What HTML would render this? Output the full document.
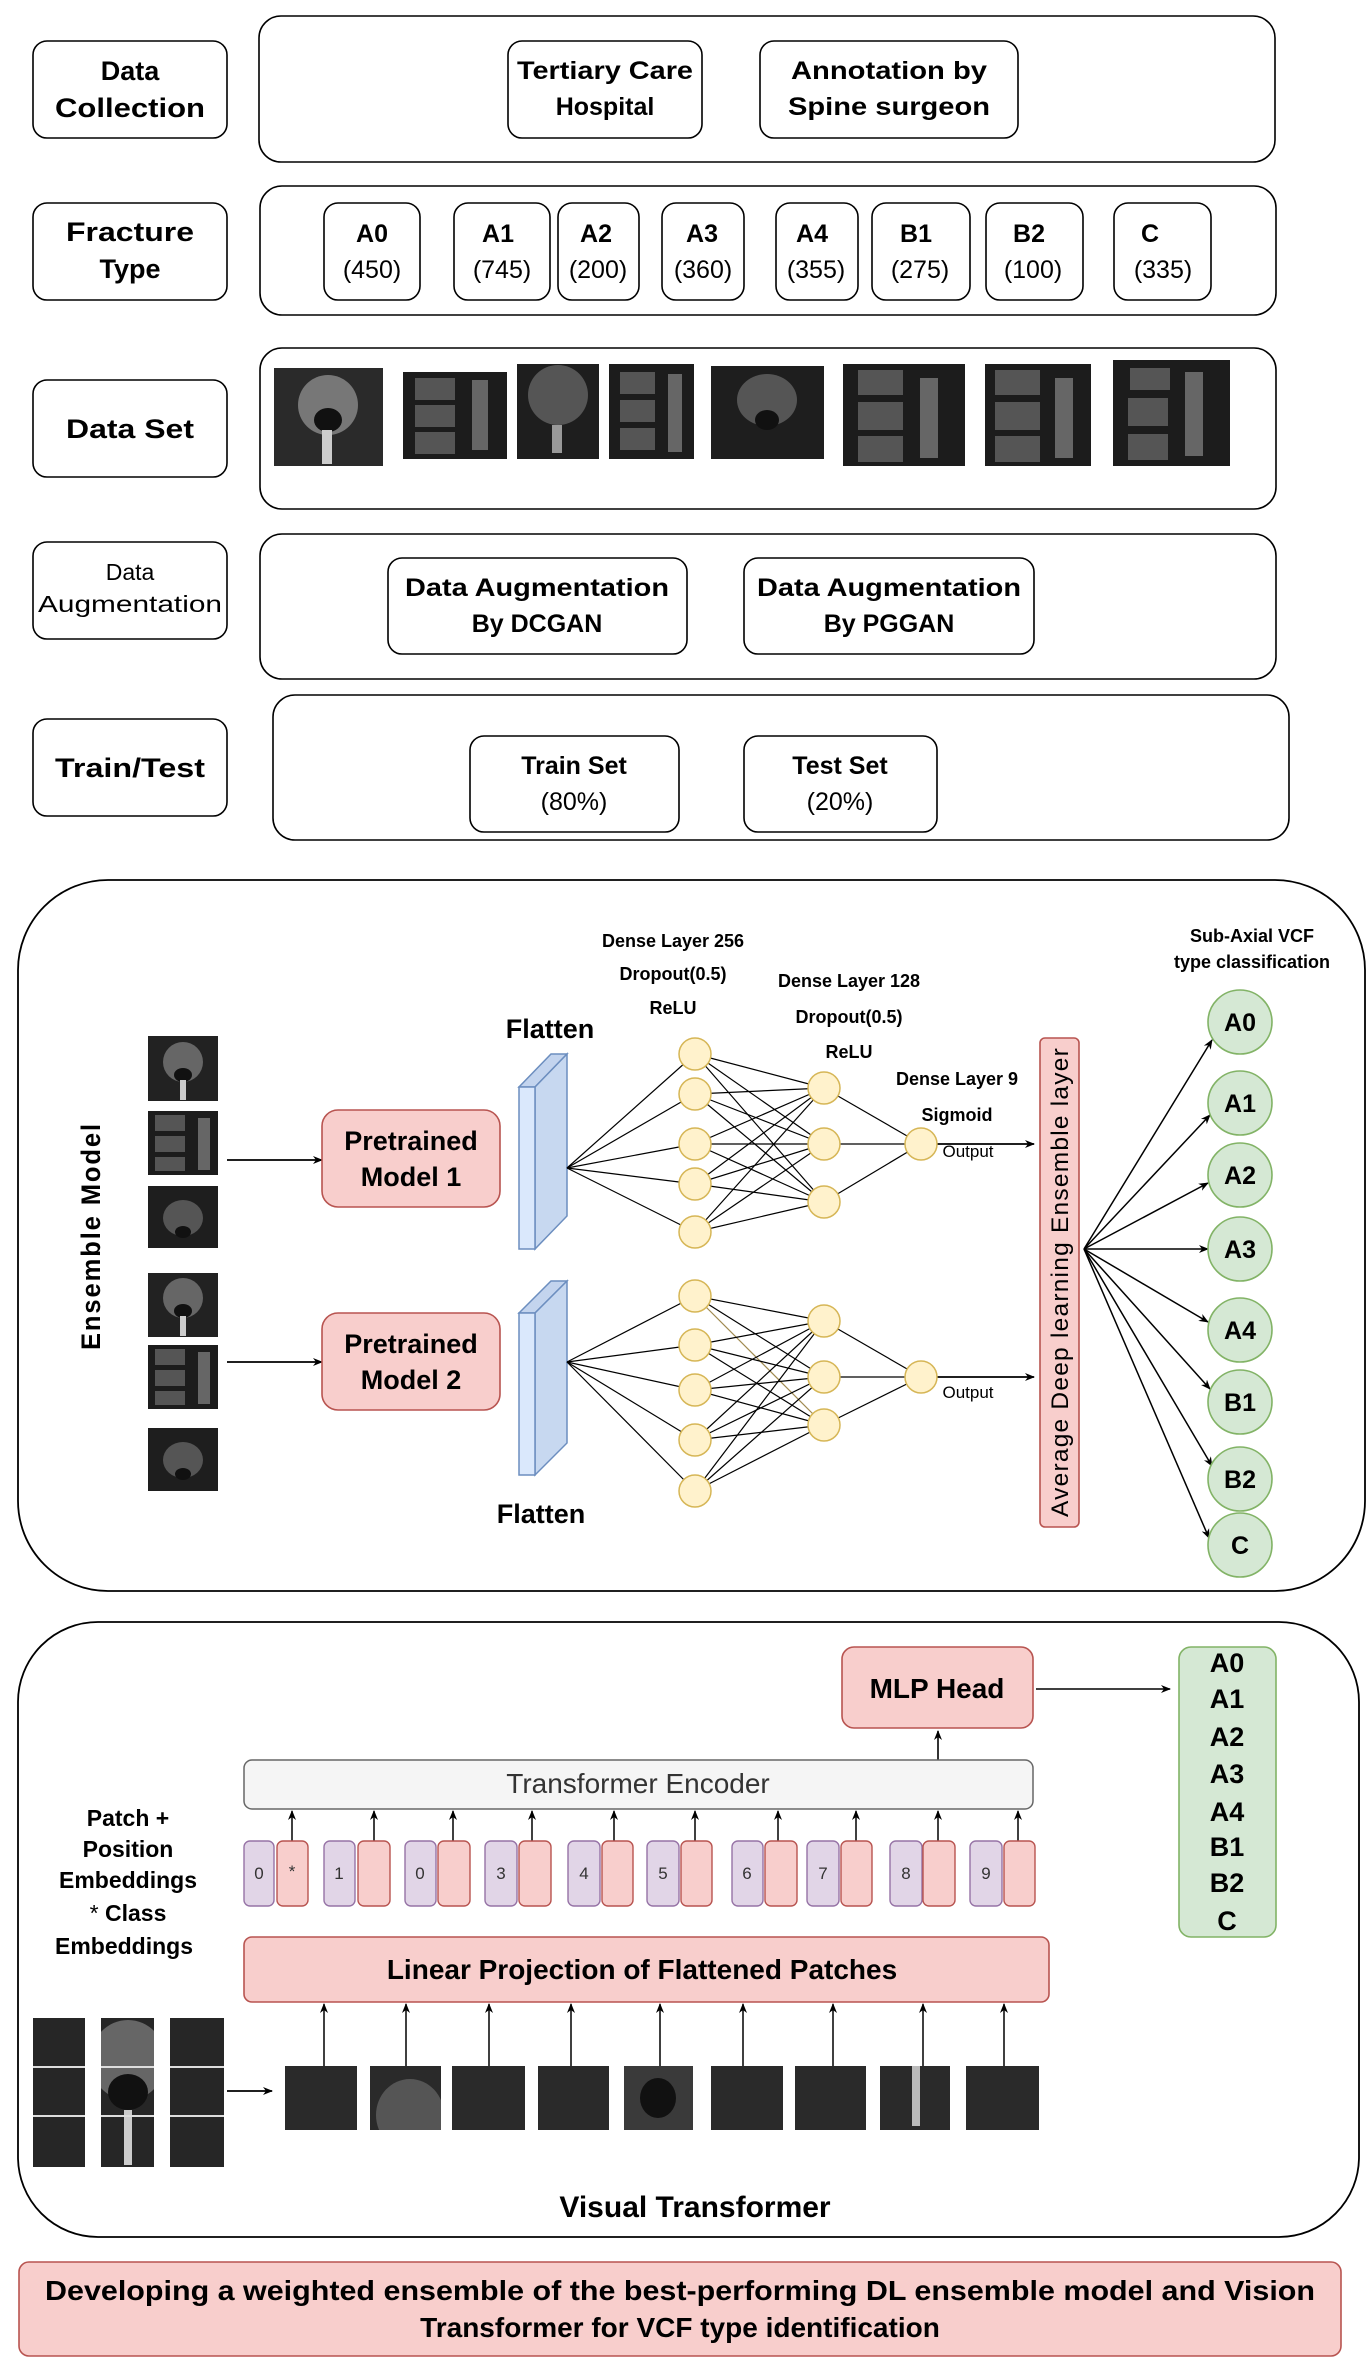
<!DOCTYPE html>
<html><head><meta charset="utf-8"><style>
html,body{margin:0;padding:0;background:#fff;}
svg{display:block;font-family:"Liberation Sans",Arial,sans-serif;}
</style></head><body>
<svg width="1372" height="2362" viewBox="0 0 1372 2362" xmlns="http://www.w3.org/2000/svg">
<defs>
<marker id="ar" markerWidth="10" markerHeight="10" refX="9" refY="5" orient="auto" markerUnits="userSpaceOnUse"><path d="M0,1 L10,5 L0,9 L3,5 Z" fill="#000"/></marker>
<clipPath id="cg"><rect x="33" y="2018" width="191" height="149"/></clipPath>
<clipPath id="cp2"><rect x="370" y="2066" width="71" height="64"/></clipPath>
</defs>
<g fill="none" stroke="#000" stroke-width="1.6">
<rect x="33" y="41" width="194" height="97" rx="14" fill="#fff"/>
<rect x="33" y="203" width="194" height="97" rx="14" fill="#fff"/>
<rect x="33" y="380" width="194" height="97" rx="14" fill="#fff"/>
<rect x="33" y="542" width="194" height="97" rx="14" fill="#fff"/>
<rect x="33" y="719" width="194" height="97" rx="14" fill="#fff"/>
<rect x="259" y="16" width="1016" height="146" rx="22"/>
<rect x="260" y="186" width="1016" height="129" rx="22"/>
<rect x="260" y="348" width="1016" height="161" rx="22"/>
<rect x="260" y="534" width="1016" height="145" rx="22"/>
<rect x="273" y="695" width="1016" height="145" rx="22"/>
<rect x="508" y="41" width="194" height="97" rx="14"/>
<rect x="760" y="41" width="258" height="97" rx="14"/>
<rect x="324" y="203" width="96" height="97" rx="14"/>
<rect x="454" y="203" width="96" height="97" rx="14"/>
<rect x="558" y="203" width="81" height="97" rx="14"/>
<rect x="662" y="203" width="82" height="97" rx="14"/>
<rect x="776" y="203" width="82" height="97" rx="14"/>
<rect x="872" y="203" width="98" height="97" rx="14"/>
<rect x="986" y="203" width="97" height="97" rx="14"/>
<rect x="1114" y="203" width="97" height="97" rx="14"/>
<rect x="388" y="558" width="299" height="96" rx="14"/>
<rect x="744" y="558" width="290" height="96" rx="14"/>
<rect x="470" y="736" width="209" height="96" rx="14"/>
<rect x="744" y="736" width="193" height="96" rx="14"/>
</g>
<g>
<rect x="274" y="368" width="109" height="98" fill="#2a2a2a"/><ellipse cx="328" cy="405" rx="30" ry="30" fill="#777"/><ellipse cx="328" cy="420" rx="14" ry="12" fill="#111"/><rect x="322" y="430" width="10" height="34" fill="#ccc"/>
<rect x="403" y="372" width="104" height="87" fill="#1c1c1c"/><rect x="415" y="378" width="40" height="22" fill="#555"/><rect x="415" y="405" width="40" height="22" fill="#555"/><rect x="415" y="432" width="40" height="22" fill="#555"/><rect x="472" y="380" width="16" height="70" fill="#666"/>
<rect x="517" y="364" width="82" height="95" fill="#1e1e1e"/><circle cx="558" cy="395" r="30" fill="#555"/><rect x="552" y="425" width="10" height="28" fill="#999"/>
<rect x="609" y="364" width="85" height="95" fill="#1c1c1c"/><rect x="620" y="372" width="35" height="22" fill="#555"/><rect x="620" y="400" width="35" height="22" fill="#555"/><rect x="620" y="428" width="35" height="22" fill="#555"/><rect x="668" y="374" width="14" height="78" fill="#666"/>
<rect x="711" y="366" width="113" height="93" fill="#1e1e1e"/><ellipse cx="767" cy="400" rx="30" ry="26" fill="#555"/><ellipse cx="767" cy="420" rx="12" ry="10" fill="#111"/>
<rect x="843" y="364" width="122" height="102" fill="#1c1c1c"/><rect x="858" y="370" width="45" height="25" fill="#555"/><rect x="858" y="402" width="45" height="28" fill="#555"/><rect x="858" y="436" width="45" height="26" fill="#555"/><rect x="920" y="378" width="18" height="80" fill="#666"/>
<rect x="985" y="364" width="106" height="102" fill="#1c1c1c"/><rect x="995" y="370" width="45" height="25" fill="#555"/><rect x="995" y="402" width="45" height="28" fill="#555"/><rect x="995" y="436" width="45" height="26" fill="#555"/><rect x="1055" y="378" width="18" height="80" fill="#666"/>
<rect x="1113" y="360" width="117" height="106" fill="#1c1c1c"/><rect x="1130" y="368" width="40" height="22" fill="#555"/><rect x="1128" y="398" width="40" height="28" fill="#555"/><rect x="1128" y="434" width="40" height="26" fill="#555"/><rect x="1185" y="372" width="18" height="84" fill="#666"/>
</g>
<g font-weight="bold" font-size="27" fill="#000" text-anchor="middle">
<text x="130" y="80">Data</text><text x="130" y="117" textLength="150" lengthAdjust="spacingAndGlyphs">Collection</text>
<text x="130" y="241" textLength="128" lengthAdjust="spacingAndGlyphs">Fracture</text><text x="130" y="278">Type</text>
<text x="130" y="438" textLength="128" lengthAdjust="spacingAndGlyphs">Data Set</text>
<text x="130" y="580" font-size="23" font-weight="normal">Data</text><text x="130" y="612" font-size="23" font-weight="normal" textLength="184" lengthAdjust="spacingAndGlyphs">Augmentation</text>
<text x="130" y="777" textLength="150" lengthAdjust="spacingAndGlyphs">Train/Test</text>
</g>
<g font-weight="bold" font-size="25" fill="#000" text-anchor="middle">
<text x="605" y="79" textLength="176" lengthAdjust="spacingAndGlyphs">Tertiary Care</text><text x="605" y="115">Hospital</text>
<text x="889" y="79" textLength="196" lengthAdjust="spacingAndGlyphs">Annotation by</text><text x="889" y="115" textLength="202" lengthAdjust="spacingAndGlyphs">Spine surgeon</text>
<text x="372" y="242">A0</text><text x="372" y="278" font-weight="normal">(450)</text>
<text x="498" y="242">A1</text><text x="502" y="278" font-weight="normal">(745)</text>
<text x="596" y="242">A2</text><text x="598" y="278" font-weight="normal">(200)</text>
<text x="702" y="242">A3</text><text x="703" y="278" font-weight="normal">(360)</text>
<text x="812" y="242">A4</text><text x="816" y="278" font-weight="normal">(355)</text>
<text x="916" y="242">B1</text><text x="920" y="278" font-weight="normal">(275)</text>
<text x="1029" y="242">B2</text><text x="1033" y="278" font-weight="normal">(100)</text>
<text x="1150" y="242">C</text><text x="1163" y="278" font-weight="normal">(335)</text>
<text x="537" y="596" textLength="264" lengthAdjust="spacingAndGlyphs">Data Augmentation</text><text x="537" y="632">By DCGAN</text>
<text x="889" y="596" textLength="264" lengthAdjust="spacingAndGlyphs">Data Augmentation</text><text x="889" y="632">By PGGAN</text>
<text x="574" y="774">Train Set</text><text x="574" y="810" font-weight="normal">(80%)</text>
<text x="840" y="774">Test Set</text><text x="840" y="810" font-weight="normal">(20%)</text>
</g>

<rect x="18" y="880" width="1347" height="711" rx="90" fill="none" stroke="#000" stroke-width="1.8"/>
<text transform="translate(100,1236) rotate(-90)" text-anchor="middle" font-weight="bold" font-size="27" letter-spacing="2" textLength="228" lengthAdjust="spacingAndGlyphs">Ensemble Model</text>
<g>
<rect x="148" y="1036" width="70" height="65" fill="#222"/><ellipse cx="183" cy="1062" rx="20" ry="20" fill="#666"/><ellipse cx="183" cy="1075" rx="9" ry="7" fill="#111"/><rect x="180" y="1080" width="6" height="20" fill="#ccc"/>
<rect x="148" y="1111" width="70" height="64" fill="#1c1c1c"/><rect x="155" y="1115" width="30" height="16" fill="#555"/><rect x="155" y="1136" width="30" height="16" fill="#555"/><rect x="155" y="1157" width="30" height="14" fill="#555"/><rect x="198" y="1118" width="12" height="52" fill="#666"/>
<rect x="148" y="1186" width="70" height="62" fill="#1e1e1e"/><ellipse cx="183" cy="1218" rx="20" ry="18" fill="#555"/><ellipse cx="183" cy="1232" rx="8" ry="6" fill="#111"/>
<rect x="148" y="1273" width="70" height="64" fill="#222"/><ellipse cx="183" cy="1298" rx="20" ry="20" fill="#666"/><ellipse cx="183" cy="1311" rx="9" ry="7" fill="#111"/><rect x="180" y="1316" width="6" height="20" fill="#ccc"/>
<rect x="148" y="1345" width="70" height="64" fill="#1c1c1c"/><rect x="155" y="1349" width="30" height="16" fill="#555"/><rect x="155" y="1370" width="30" height="16" fill="#555"/><rect x="155" y="1391" width="30" height="14" fill="#555"/><rect x="198" y="1352" width="12" height="52" fill="#666"/>
<rect x="148" y="1428" width="70" height="63" fill="#1e1e1e"/><ellipse cx="183" cy="1460" rx="20" ry="18" fill="#555"/><ellipse cx="183" cy="1474" rx="8" ry="6" fill="#111"/>
</g>
<g stroke="#000" stroke-width="1.8" fill="none">
<line x1="227" y1="1160" x2="322" y2="1160" marker-end="url(#ar)"/>
<line x1="227" y1="1362" x2="322" y2="1362" marker-end="url(#ar)"/>
</g>
<rect x="322" y="1110" width="178" height="97" rx="16" fill="#f8cecc" stroke="#b85450" stroke-width="1.6"/>
<rect x="322" y="1313" width="178" height="97" rx="16" fill="#f8cecc" stroke="#b85450" stroke-width="1.6"/>
<g font-weight="bold" font-size="27" text-anchor="middle">
<text x="411" y="1150">Pretrained</text><text x="411" y="1186">Model 1</text>
<text x="411" y="1353">Pretrained</text><text x="411" y="1389">Model 2</text>
<text x="550" y="1038">Flatten</text><text x="541" y="1523">Flatten</text>
</g>
<g stroke="#6c8ebf" stroke-width="1.5">
<polygon points="519,1087 535,1087 567,1054 551,1054" fill="#c3d4ee"/>
<polygon points="535,1087 567,1054 567,1216 535,1249" fill="#c7d8f0"/>
<rect x="519" y="1087" width="16" height="162" fill="#dae8fc"/>
<polygon points="519,1313 535,1313 567,1281 551,1281" fill="#c3d4ee"/>
<polygon points="535,1313 567,1281 567,1443 535,1475" fill="#c7d8f0"/>
<rect x="519" y="1313" width="16" height="162" fill="#dae8fc"/>
</g>
<g stroke="#000" stroke-width="1.2">
<line x1="567" y1="1168" x2="695" y2="1054"/><line x1="567" y1="1168" x2="695" y2="1094"/><line x1="567" y1="1168" x2="695" y2="1144"/><line x1="567" y1="1168" x2="695" y2="1184"/><line x1="567" y1="1168" x2="695" y2="1232"/>
<line x1="695" y1="1054" x2="824" y2="1088"/><line x1="695" y1="1054" x2="824" y2="1144"/><line x1="695" y1="1054" x2="824" y2="1202"/>
<line x1="695" y1="1094" x2="824" y2="1088"/><line x1="695" y1="1094" x2="824" y2="1144"/><line x1="695" y1="1094" x2="824" y2="1202"/>
<line x1="695" y1="1144" x2="824" y2="1088"/><line x1="695" y1="1144" x2="824" y2="1144"/><line x1="695" y1="1144" x2="824" y2="1202"/>
<line x1="695" y1="1184" x2="824" y2="1088"/><line x1="695" y1="1184" x2="824" y2="1144"/><line x1="695" y1="1184" x2="824" y2="1202"/>
<line x1="695" y1="1232" x2="824" y2="1088"/><line x1="695" y1="1232" x2="824" y2="1144"/><line x1="695" y1="1232" x2="824" y2="1202"/>
<line x1="824" y1="1088" x2="921" y2="1144"/><line x1="824" y1="1144" x2="921" y2="1144"/><line x1="824" y1="1202" x2="921" y2="1144"/>
<line x1="567" y1="1362" x2="695" y2="1296"/><line x1="567" y1="1362" x2="695" y2="1345"/><line x1="567" y1="1362" x2="695" y2="1390"/><line x1="567" y1="1362" x2="695" y2="1440"/><line x1="567" y1="1362" x2="695" y2="1491"/>
<line x1="695" y1="1296" x2="824" y2="1321"/><line x1="695" y1="1296" x2="824" y2="1377"/><line x1="695" y1="1296" x2="824" y2="1425" stroke="#a08a50"/>
<line x1="695" y1="1345" x2="824" y2="1321"/><line x1="695" y1="1345" x2="824" y2="1377"/><line x1="695" y1="1345" x2="824" y2="1425"/>
<line x1="695" y1="1390" x2="824" y2="1321"/><line x1="695" y1="1390" x2="824" y2="1377"/><line x1="695" y1="1390" x2="824" y2="1425"/>
<line x1="695" y1="1440" x2="824" y2="1321"/><line x1="695" y1="1440" x2="824" y2="1377"/><line x1="695" y1="1440" x2="824" y2="1425"/>
<line x1="695" y1="1491" x2="824" y2="1321"/><line x1="695" y1="1491" x2="824" y2="1377"/><line x1="695" y1="1491" x2="824" y2="1425"/>
<line x1="824" y1="1321" x2="921" y2="1377"/><line x1="824" y1="1377" x2="921" y2="1377"/><line x1="824" y1="1425" x2="921" y2="1377"/>
</g>
<g stroke="#000" stroke-width="1.8">
<line x1="937" y1="1144" x2="1034" y2="1144" marker-end="url(#ar)"/>
<line x1="937" y1="1377" x2="1034" y2="1377" marker-end="url(#ar)"/>
</g>
<g fill="#fff2cc" stroke="#d6b656" stroke-width="1.5">
<circle cx="695" cy="1054" r="16"/><circle cx="695" cy="1094" r="16"/><circle cx="695" cy="1144" r="16"/><circle cx="695" cy="1184" r="16"/><circle cx="695" cy="1232" r="16"/>
<circle cx="824" cy="1088" r="16"/><circle cx="824" cy="1144" r="16"/><circle cx="824" cy="1202" r="16"/>
<circle cx="921" cy="1144" r="16"/>
<circle cx="695" cy="1296" r="16"/><circle cx="695" cy="1345" r="16"/><circle cx="695" cy="1390" r="16"/><circle cx="695" cy="1440" r="16"/><circle cx="695" cy="1491" r="16"/>
<circle cx="824" cy="1321" r="16"/><circle cx="824" cy="1377" r="16"/><circle cx="824" cy="1425" r="16"/>
<circle cx="921" cy="1377" r="16"/>
</g>
<g font-weight="bold" font-size="18" text-anchor="middle">
<text x="673" y="947">Dense Layer 256</text><text x="673" y="980">Dropout(0.5)</text><text x="673" y="1014">ReLU</text>
<text x="849" y="987">Dense Layer 128</text><text x="849" y="1023">Dropout(0.5)</text><text x="849" y="1058">ReLU</text>
<text x="957" y="1085">Dense Layer 9</text><text x="957" y="1121">Sigmoid</text>
<text x="1252" y="942">Sub-Axial VCF</text><text x="1252" y="968">type classification</text>
</g>
<g font-size="17" text-anchor="middle"><text x="968" y="1157">Output</text><text x="968" y="1398">Output</text></g>
<rect x="1040" y="1038" width="39" height="489" rx="5" fill="#f8cecc" stroke="#b85450" stroke-width="1.6"/>
<text transform="translate(1068,1282) rotate(-90)" text-anchor="middle" font-size="24" letter-spacing="1.2" textLength="470" lengthAdjust="spacingAndGlyphs">Average Deep learning Ensemble layer</text>
<g stroke="#000" stroke-width="1.5">
<line x1="1084" y1="1249" x2="1212" y2="1040" marker-end="url(#ar)"/>
<line x1="1084" y1="1249" x2="1210" y2="1115" marker-end="url(#ar)"/>
<line x1="1084" y1="1249" x2="1208" y2="1183" marker-end="url(#ar)"/>
<line x1="1084" y1="1249" x2="1208" y2="1249" marker-end="url(#ar)"/>
<line x1="1084" y1="1249" x2="1208" y2="1322" marker-end="url(#ar)"/>
<line x1="1084" y1="1249" x2="1210" y2="1389" marker-end="url(#ar)"/>
<line x1="1084" y1="1249" x2="1212" y2="1466" marker-end="url(#ar)"/>
<line x1="1084" y1="1249" x2="1209" y2="1538" marker-end="url(#ar)"/>
</g>
<g fill="#d5e8d4" stroke="#82b366" stroke-width="1.6">
<circle cx="1240" cy="1022" r="32"/><circle cx="1240" cy="1103" r="32"/><circle cx="1240" cy="1175" r="32"/><circle cx="1240" cy="1249" r="32"/><circle cx="1240" cy="1330" r="32"/><circle cx="1240" cy="1402" r="32"/><circle cx="1240" cy="1479" r="32"/><circle cx="1240" cy="1545" r="32"/>
</g>
<g font-weight="bold" font-size="25" text-anchor="middle">
<text x="1240" y="1031">A0</text><text x="1240" y="1112">A1</text><text x="1240" y="1184">A2</text><text x="1240" y="1258">A3</text><text x="1240" y="1339">A4</text><text x="1240" y="1411">B1</text><text x="1240" y="1488">B2</text><text x="1240" y="1554">C</text>
</g>

<rect x="18" y="1622" width="1341" height="615" rx="80" fill="none" stroke="#000" stroke-width="1.8"/>
<rect x="842" y="1647" width="191" height="81" rx="12" fill="#f8cecc" stroke="#b85450" stroke-width="1.6"/>
<text x="937" y="1698" text-anchor="middle" font-weight="bold" font-size="28">MLP Head</text>
<line x1="1036" y1="1689" x2="1170" y2="1689" stroke="#000" stroke-width="1.6" marker-end="url(#ar)"/>
<rect x="1179" y="1647" width="97" height="290" rx="12" fill="#d5e8d4" stroke="#82b366" stroke-width="1.6"/>
<g font-weight="bold" font-size="27" text-anchor="middle">
<text x="1227" y="1672">A0</text><text x="1227" y="1708">A1</text><text x="1227" y="1746">A2</text><text x="1227" y="1783">A3</text><text x="1227" y="1821">A4</text><text x="1227" y="1856">B1</text><text x="1227" y="1892">B2</text><text x="1227" y="1930">C</text>
</g>
<line x1="938" y1="1760" x2="938" y2="1731" stroke="#000" stroke-width="1.6" marker-end="url(#ar)"/>
<rect x="244" y="1760" width="789" height="49" rx="8" fill="#f5f5f5" stroke="#666" stroke-width="1.5"/>
<text x="638" y="1793" text-anchor="middle" font-size="28" fill="#333">Transformer Encoder</text>
<g stroke="#000" stroke-width="1.5">
<line x1="292" y1="1841" x2="292" y2="1811" marker-end="url(#ar)"/><line x1="374" y1="1841" x2="374" y2="1811" marker-end="url(#ar)"/><line x1="453" y1="1841" x2="453" y2="1811" marker-end="url(#ar)"/><line x1="532" y1="1841" x2="532" y2="1811" marker-end="url(#ar)"/><line x1="614" y1="1841" x2="614" y2="1811" marker-end="url(#ar)"/><line x1="695" y1="1841" x2="695" y2="1811" marker-end="url(#ar)"/><line x1="778" y1="1841" x2="778" y2="1811" marker-end="url(#ar)"/><line x1="856" y1="1841" x2="856" y2="1811" marker-end="url(#ar)"/><line x1="938" y1="1841" x2="938" y2="1811" marker-end="url(#ar)"/><line x1="1018" y1="1841" x2="1018" y2="1811" marker-end="url(#ar)"/>
</g>
<g stroke-width="1.4">
<g fill="#e1d5e7" stroke="#9673a6">
<rect x="244" y="1841" width="30" height="65" rx="6"/><rect x="324" y="1841" width="31" height="65" rx="6"/><rect x="405" y="1841" width="31" height="65" rx="6"/><rect x="485" y="1841" width="32" height="65" rx="6"/><rect x="568" y="1841" width="32" height="65" rx="6"/><rect x="647" y="1841" width="32" height="65" rx="6"/><rect x="732" y="1841" width="31" height="65" rx="6"/><rect x="807" y="1841" width="32" height="65" rx="6"/><rect x="890" y="1841" width="32" height="65" rx="6"/><rect x="970" y="1841" width="32" height="65" rx="6"/>
</g>
<g fill="#f8cecc" stroke="#b85450">
<rect x="277" y="1841" width="31" height="65" rx="6"/><rect x="358" y="1841" width="32" height="65" rx="6"/><rect x="438" y="1841" width="32" height="65" rx="6"/><rect x="519" y="1841" width="32" height="65" rx="6"/><rect x="602" y="1841" width="31" height="65" rx="6"/><rect x="681" y="1841" width="31" height="65" rx="6"/><rect x="765" y="1841" width="32" height="65" rx="6"/><rect x="841" y="1841" width="31" height="65" rx="6"/><rect x="923" y="1841" width="32" height="65" rx="6"/><rect x="1004" y="1841" width="31" height="65" rx="6"/>
</g>
</g>
<g font-size="17" text-anchor="middle" fill="#333">
<text x="259" y="1879">0</text><text x="292" y="1877">*</text><text x="339" y="1879">1</text><text x="420" y="1879">0</text><text x="501" y="1879">3</text><text x="584" y="1879">4</text><text x="663" y="1879">5</text><text x="747" y="1879">6</text><text x="823" y="1879">7</text><text x="906" y="1879">8</text><text x="986" y="1879">9</text>
</g>
<g font-weight="bold" font-size="23" text-anchor="middle">
<text x="128" y="1826">Patch +</text><text x="128" y="1857">Position</text><text x="128" y="1888">Embeddings</text><text x="128" y="1921" font-weight="normal">* <tspan font-weight="bold">Class</tspan></text><text x="124" y="1954">Embeddings</text>
</g>
<rect x="244" y="1937" width="805" height="65" rx="8" fill="#f8cecc" stroke="#b85450" stroke-width="1.6"/>
<text x="642" y="1979" text-anchor="middle" font-weight="bold" font-size="28">Linear Projection of Flattened Patches</text>
<g clip-path="url(#cg)">
<rect x="33" y="2018" width="191" height="149" fill="#262626"/>
<ellipse cx="128" cy="2060" rx="38" ry="40" fill="#666"/><ellipse cx="128" cy="2092" rx="20" ry="18" fill="#111"/><rect x="124" y="2110" width="8" height="55" fill="#ccc"/>
<rect x="33" y="2066" width="191" height="2" fill="#ddd"/><rect x="33" y="2115" width="191" height="2" fill="#ddd"/>
<rect x="85" y="2018" width="16" height="149" fill="#fff"/><rect x="154" y="2018" width="16" height="149" fill="#fff"/>
</g>
<line x1="227" y1="2091" x2="272" y2="2091" stroke="#000" stroke-width="1.8" marker-end="url(#ar)"/>
<g>
<rect x="285" y="2066" width="72" height="64" fill="#2a2a2a"/><rect x="370" y="2066" width="71" height="64" fill="#2a2a2a"/><ellipse cx="410" cy="2115" rx="34" ry="36" fill="#555" clip-path="url(#cp2)"/><rect x="452" y="2066" width="73" height="64" fill="#2a2a2a"/><rect x="538" y="2066" width="71" height="64" fill="#2a2a2a"/><rect x="624" y="2066" width="69" height="64" fill="#3a3a3a"/><ellipse cx="658" cy="2098" rx="18" ry="20" fill="#111"/><rect x="711" y="2066" width="72" height="64" fill="#2a2a2a"/><rect x="795" y="2066" width="71" height="64" fill="#2a2a2a"/><rect x="880" y="2066" width="70" height="64" fill="#2a2a2a"/><rect x="912" y="2066" width="8" height="60" fill="#bbb"/><rect x="966" y="2066" width="73" height="64" fill="#2a2a2a"/>
</g>
<g stroke="#000" stroke-width="1.5">
<line x1="324" y1="2066" x2="324" y2="2004" marker-end="url(#ar)"/><line x1="406" y1="2066" x2="406" y2="2004" marker-end="url(#ar)"/><line x1="489" y1="2066" x2="489" y2="2004" marker-end="url(#ar)"/><line x1="571" y1="2066" x2="571" y2="2004" marker-end="url(#ar)"/><line x1="660" y1="2066" x2="660" y2="2004" marker-end="url(#ar)"/><line x1="743" y1="2066" x2="743" y2="2004" marker-end="url(#ar)"/><line x1="833" y1="2066" x2="833" y2="2004" marker-end="url(#ar)"/><line x1="923" y1="2066" x2="923" y2="2004" marker-end="url(#ar)"/><line x1="1004" y1="2066" x2="1004" y2="2004" marker-end="url(#ar)"/>
</g>
<text x="695" y="2217" text-anchor="middle" font-weight="bold" font-size="30">Visual Transformer</text>
<rect x="19" y="2262" width="1322" height="94" rx="10" fill="#f8cecc" stroke="#b85450" stroke-width="1.6"/>
<g font-weight="bold" font-size="28" text-anchor="middle">
<text x="680" y="2300" textLength="1270" lengthAdjust="spacingAndGlyphs">Developing a weighted ensemble of the best-performing DL ensemble model and Vision</text>
<text x="680" y="2337">Transformer for VCF type identification</text>
</g>
</svg>
</body></html>
